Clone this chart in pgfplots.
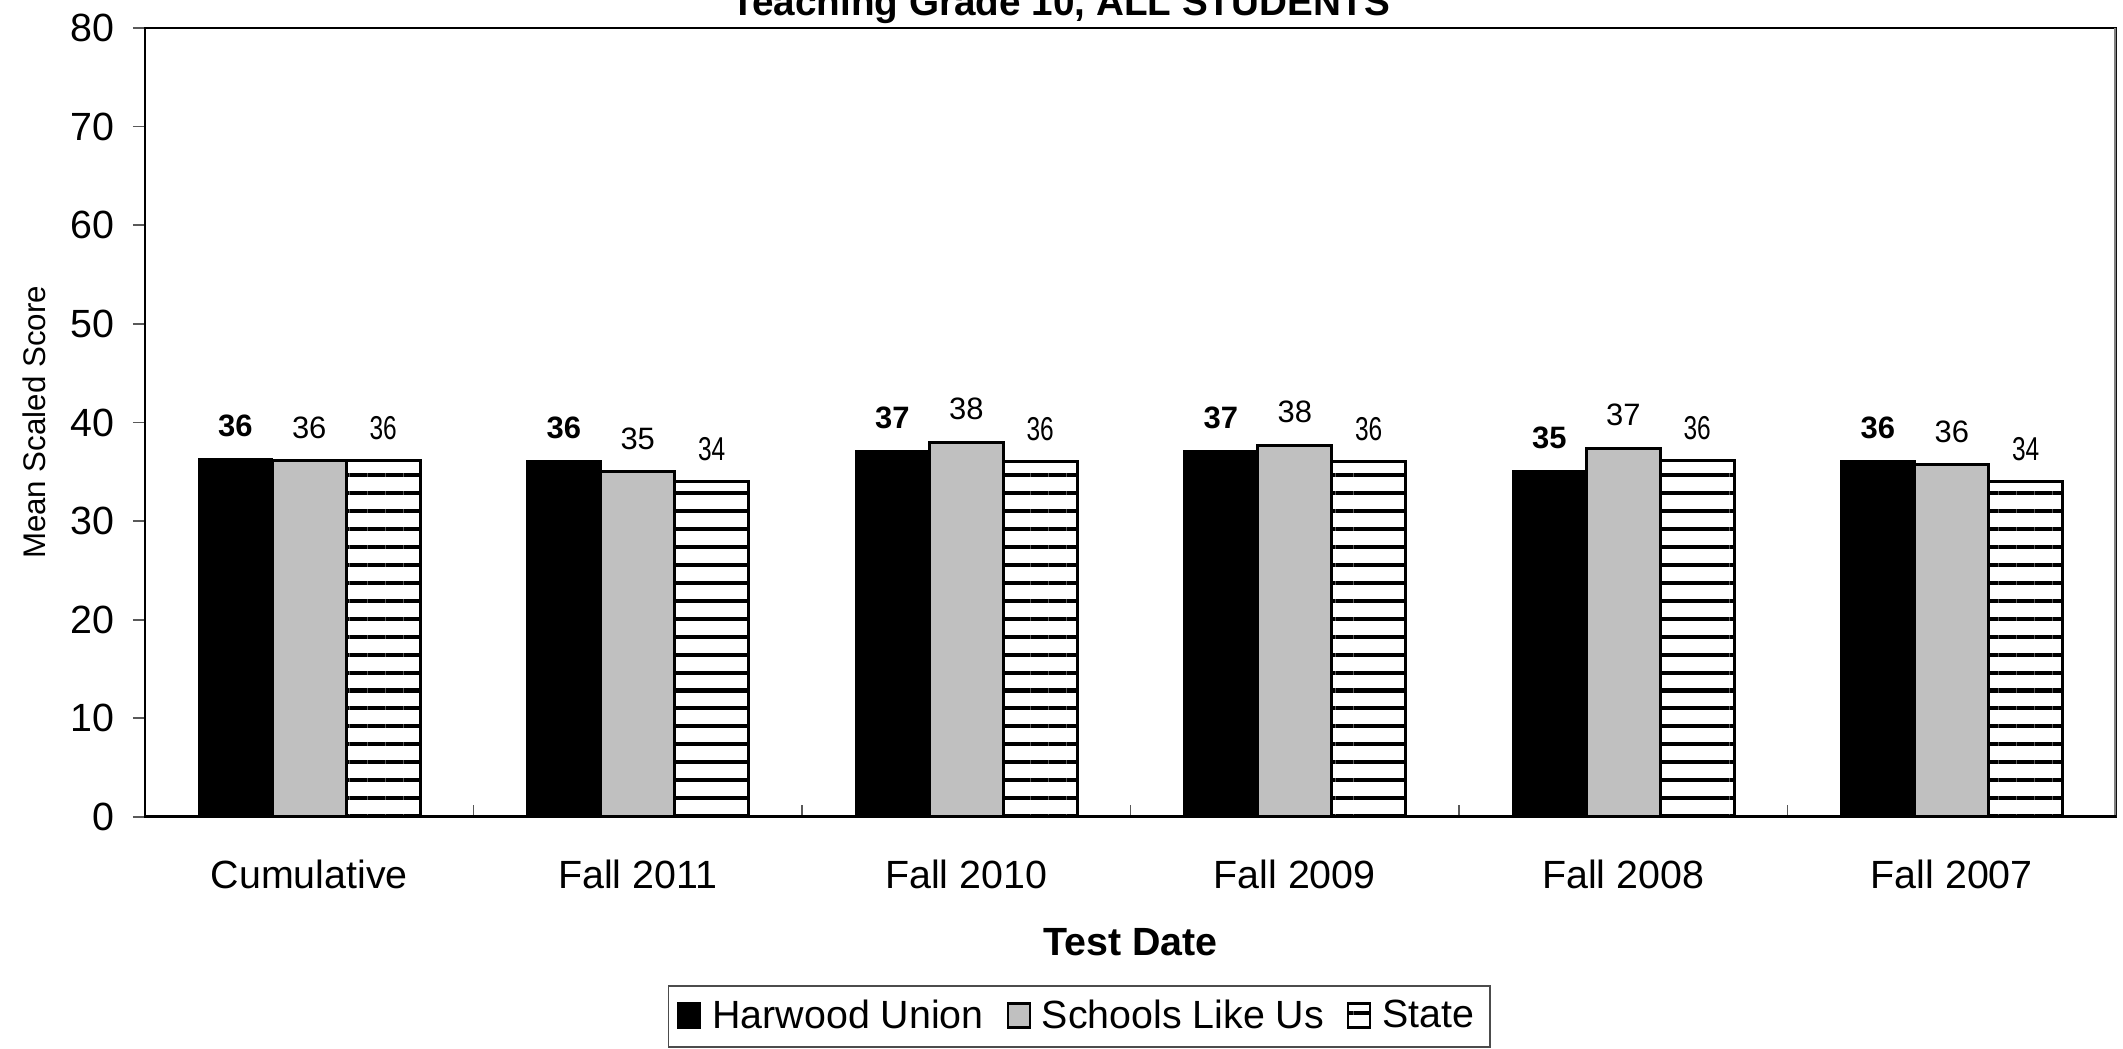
\documentclass[border=0pt]{standalone}
\usepackage{fontspec}
\setmainfont{Liberation Sans}
\usepackage{graphicx}
\usepackage{pgfplots}
\pgfplotsset{compat=1.18}
\usetikzlibrary{patterns.meta}
\definecolor{slu}{RGB}{192,192,192}
\newcommand{\bigf}{\fontsize{11.2pt}{13.4pt}\selectfont}
\newcommand{\lblf}{\fontsize{8.8pt}{10.5pt}\selectfont}
\begin{document}
\begin{tikzpicture}
\begin{axis}[
  name=ax,
  scale only axis,
  width=197.1mm, height=78.9mm,
  xmin=-0.5, xmax=5.5, ymin=0, ymax=80,
  ytick={0,10,...,80},
  xtick={0,1,2,3,4,5},
  xticklabels={Cumulative,Fall 2011,Fall 2010,Fall 2009,Fall 2008,Fall 2007},
  major x tick style={draw=none},
  ytick pos=left,
  tick align=outside,
  major tick length=1.2mm,
  y tick style={gray!70!black, line width=0.5pt},
  axis line style={line width=0.5pt},
  /pgf/number format/assume math mode=true,
  yticklabel style={font=\bigf, xshift=-0.6mm},
  xticklabel style={font=\bigf, yshift=-1.9mm},
  ybar=0pt,
  bar width=0.225,
  point meta=explicit symbolic,
  nodes near coords,
  every node near coord/.append style={anchor=center, yshift=3.3mm, text=black},
  legend columns=3,
  legend style={at={(0.474,-0.2529)}, anchor=center, font=\bigf, draw=black!70, line width=0.5pt,
    inner xsep=2.5pt, inner ysep=1.8pt,
    /tikz/every even column/.append style={column sep=1.6mm},
    /tikz/every odd column/.append style={column sep=0.4mm}},
  sq/.style={legend image code/.code={\draw[##1, line width=0.6pt] (0cm,-0.11cm) rectangle (0.22cm,0.13cm);}},
]
\addplot[sq, fill=black, draw=black, bar shift=-0.225,
  nodes near coords={\lblf\bfseries\pgfplotspointmeta}]
  coordinates {(0,36.3) [36] (1,36.1) [36] (2,37.1) [37] (3,37.1) [37] (4,35.1) [35] (5,36.1) [36]};
\addplot[sq, fill=slu, draw=black, line width=0.85pt, bar shift=0,
  nodes near coords={\lblf\pgfplotspointmeta}]
  coordinates {(0,36.1) [36] (1,35.0) [35] (2,38.0) [38] (3,37.7) [38] (4,37.4) [37] (5,35.7) [36]};
\addplot[sq, draw=black, line width=0.85pt, bar shift=0.225,
  pattern={Lines[angle=0,distance=5.1pt,line width=1.15pt]}, pattern color=black,
  nodes near coords={\fontsize{9.4pt}{11pt}\selectfont\scalebox{0.74}[1]{\pgfplotspointmeta}}]
  coordinates {(0,36.1) [36] (1,34.0) [34] (2,36.0) [36] (3,36.0) [36] (4,36.1) [36] (5,34.0) [34]};
\legend{Harwood Union,Schools Like Us,State}
\draw[gray!70!black, line width=0.5pt] (axis cs:0.5,0) -- ++(0pt,1.2mm);
\draw[gray!70!black, line width=0.5pt] (axis cs:1.5,0) -- ++(0pt,1.2mm);
\draw[gray!70!black, line width=0.5pt] (axis cs:2.5,0) -- ++(0pt,1.2mm);
\draw[gray!70!black, line width=0.5pt] (axis cs:3.5,0) -- ++(0pt,1.2mm);
\draw[gray!70!black, line width=0.5pt] (axis cs:4.5,0) -- ++(0pt,1.2mm);
\draw[gray, line width=1pt] (rel axis cs:1,0) -- (rel axis cs:1,1);
\draw[black, line width=0.9pt] (rel axis cs:0,0) -- (rel axis cs:1,0);
\end{axis}
\node[anchor=base, font=\fontsize{11pt}{13pt}\selectfont\bfseries] at ([xshift=91.6mm,yshift=1.2mm]ax.north west) {Teaching Grade 10, ALL STUDENTS};
\node[font=\bigf\bfseries] at ([yshift=-12.5mm]ax.south) {Test Date};
\node[rotate=90, font=\fontsize{8.9pt}{10.5pt}\selectfont] at ([xshift=-11.1mm]ax.west) {Mean Scaled Score};
\pgfresetboundingbox
\path ([shift={(-14.5mm,-23.2mm)}]ax.south west) rectangle ([shift={(0.7mm,2.8mm)}]ax.north east);
\end{tikzpicture}
\end{document}
